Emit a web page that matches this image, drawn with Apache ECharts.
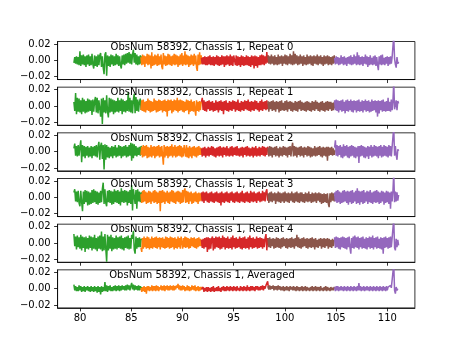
<!DOCTYPE html>
<html>
<head>
<meta charset="utf-8">
<script src="https://cdn.jsdelivr.net/npm/echarts@6/dist/echarts.min.js"></script>
<style>
  html, body { margin: 0; padding: 0; background: #fff; }
  #chart { width: 461px; height: 346px; }
</style>
</head>
<body>
<div id="chart"></div>
<script>
// Panel captions, top to bottom
const panelTitles = [
  'ObsNum 58392, Chassis 1, Repeat 0',
  'ObsNum 58392, Chassis 1, Repeat 1',
  'ObsNum 58392, Chassis 1, Repeat 2',
  'ObsNum 58392, Chassis 1, Repeat 3',
  'ObsNum 58392, Chassis 1, Repeat 4',
  'ObsNum 58392, Chassis 1, Averaged'
];

// Five sub-bands: frequency span of each and its colour
const bandStart = [79.4, 85.95, 91.85, 98.35, 104.85];
const bandEnd   = [86.05, 91.9, 98.4, 104.9, 111.1];
const bandColors = ['#2ca02c', '#ff7f0e', '#d62728', '#8c564b', '#9467bd'];

// Tick positions
const xTicks = [80, 85, 90, 95, 100, 105, 110];
const yTicks = [-0.02, 0.0, 0.02];

// Residual spectra in units of 1e-3, one list per sub-band (evenly spaced channels)
const repeat0 = [
  [-3, 4, -4, 5, -5, 4, -6, 11, -7, 6, -5, 7, -6, 5, -8, 6, -5, 7, -7, 5,
   -6, 8, -5, -10, 6, -7, 5, -8, 7, -6, 6, 9, -8, 5, -9, -17, 7, 10, -19, 6,
   -7, 5, -8, 7, -5, 6, -7, 5, -6, 8, -5, 6, -7, 5, -6, -10, 6, -5, 7, -6,
   8, -4, 9, -3, 10, -4, 8, -5, 7, 13, -3, 9, -5, 7, -6, 5, -5, 6, -4, 5],
  [4, -6, 7, -5, 6, -8, 5, -4, 8, -6, 7, -5, 6, -10, 10, -7, 5, -6, 7, -5,
   6, -7, 8, -6, 5, -5, 7, -8, -11, 9, -5, 6, -7, 5, -6, 8, -5, 7, -6, 5,
   -7, 6, -5, 8, -6, 7, -5, 6, -8, 5, -6, 7, -5, 9, -7, 6, -5, 11, -6, 7,
   -5, 6, -8, 5, -6, 7, -5, 6, -7, 8, -5, 6, -9, -13, 7, -6, 10, -5, 6, -4],
  [3, -5, 4, -5, 5, -6, 4, -6, 5, -5, 6, -6, 4, -6, 5, -7, 4, -5, 6, -6,
   5, -7, 4, -6, 6, -5, 5, -8, 5, -6, 6, -5, 5, -7, 7, -6, 5, -7, 6, 8,
   -6, 6, -7, 5, -6, 4, -8, 6, -6, 5, -7, 4, -6, 6, -6, 5, -7, 4, -8, 6,
   -6, 5, -10, 6, -7, 5, -9, 4, -6, 6, -6, 7, -5, 6, -6, 5, -4, 10, -3, 6],
  [6, -4, 5, -5, 7, -4, 5, -6, 6, -5, 4, -6, 7, -5, 5, -4, 6, -7, 5, -4,
   7, -5, 6, -6, 5, -4, 8, -5, 6, -6, 11, -5, 8, -4, 6, -6, 5, -5, 7, -4,
   5, -7, 6, -5, 4, -6, 7, -5, 5, -4, 6, -6, 5, -7, 6, -4, 5, -5, 7, -6,
   5, -4, 6, -5, 4, -7, 6, -5, 5, -4, 6, -6, 5, -5, 4, -6, 5, -4, 6, -3],
  [3, -5, 5, -4, 4, -6, 3, -5, 6, -4, 4, -6, 5, -5, 3, -7, 4, -4, 5, -5,
   6, -6, 4, -5, 7, -4, 5, -6, 10, -5, 6, -6, 4, -5, 5, -7, 4, -4, 7, -5,
   5, -8, 4, -6, 6, -5, 3, -6, 5, -5, 6, -7, 4, -6, -12, 5, -5, 6, -6, 7,
   -5, 3, -6, 4, -4, 5, -7, 4, -5, 5, -4, 4, 5, 30, 2, -5, -9, 4, -4, -2]
];
const repeat1 = [
  [5, -6, 16, -10, 10, -7, 9, -8, 7, -10, 10, -7, 8, -9, 6, -8, 9, -7, 8, -6,
   7, -11, 8, -7, 6, 11, -8, 10, -9, 7, 8, -13, 9, -22, 10, -8, 7, -9, 13, -7,
   -14, 10, -8, 9, -7, 8, -10, 7, -8, 6, -7, 10, -8, 7, -6, 9, -10, 8, -7, 6,
   -8, 7, -6, 17, -7, 10, -8, 7, -9, 8, 15, -9, 11, -6, 8, -7, 5, 9, -5, 4],
  [-5, 7, -6, 8, -7, 5, -8, 6, -5, 9, -6, 7, -8, 6, -7, 5, -6, 9, -5, 7,
   -8, 6, -7, 8, -6, 7, -5, 6, -8, 7, -6, 8, -7, 6, -13, 8, -6, 7, -5, 8,
   -9, 6, -7, 8, -5, 7, -6, 10, -8, 7, -6, 8, -5, 7, -7, 6, -8, 5, -6, 8,
   -5, 7, -10, 6, -7, 8, -6, 5, -7, 6, -5, -12, 7, -6, 5, -7, 6, -5, 5, 3],
  [5, 10, -5, 7, -6, 5, -7, 6, -4, 7, -6, 5, -5, 6, -7, 4, -6, 7, -5, 5,
   -8, 6, -5, 7, -6, 5, -10, 6, -5, 7, -6, 4, -7, 6, -5, 5, -6, 7, -4, 6,
   -7, 5, -5, 8, -6, 4, -7, 6, -5, 5, -6, 7, -4, 6, -5, 8, -6, 5, -7, 6,
   -5, 5, -6, 7, -4, 6, -5, 4, -7, 6, -5, 8, -6, 5, -4, 6, -5, 7, -4, 3],
  [6, -7, 5, -4, 6, -6, 7, -5, 5, -7, 6, -4, 5, -8, 6, -6, 7, -5, 4, -6,
   6, -5, 7, -7, 5, -4, 6, -6, 5, -7, 4, -5, 6, -6, 5, -7, 6, -4, 7, -6,
   5, -5, 4, -6, 5, -7, 6, -5, 5, -6, 4, -7, 6, -5, 5, -6, 7, -4, 5, -6,
   4, -7, 5, -5, 6, -6, 4, -7, 5, -5, 6, -6, 5, -4, 5, -6, 4, -5, 5, -3],
  [7, -5, 8, -6, 7, -8, 6, -5, 7, -7, 8, -6, 5, -9, 7, -6, 8, -7, 6, -5,
   8, -7, 6, -8, 7, -5, 6, -8, 7, -6, 8, -7, 5, -6, 7, -8, 6, -5, 8, -7,
   6, -6, 7, -8, 5, -7, 8, -6, 6, -5, 7, -8, 6, -13, 7, -9, 6, -5, 7, -7,
   8, -6, 5, -7, 6, -6, 10, -6, 5, -7, 8, -5, 6, 30, -4, -6, 7, -5, 6, 3]
];
const repeat2 = [
  [4, 10, -5, 7, -6, 8, -5, 6, 14, -13, 8, -6, 7, -8, 6, -5, 7, -7, 5, -6,
   7, -8, 6, -5, 7, -6, 8, -7, 6, 12, -10, 7, 11, -9, 8, -22, 9, -10, 8, -7,
   6, -8, 5, -6, 7, -8, 6, -5, 8, -7, 5, -6, 8, -5, 7, -8, 6, -6, 7, -5,
   8, -7, 6, -6, 8, -5, 11, -11, 10, -8, 9, -5, 7, -6, 5, -4, 6, -5, 7, 4],
  [-4, 6, -7, 8, -6, 7, -5, 8, -8, 6, -7, 5, -6, 8, -7, 6, -5, 7, -8, 6,
   -6, 7, -5, 8, -7, 6, -6, 7, -5, -16, 8, -7, 6, -5, 7, -8, 6, -6, 7, -5,
   9, -7, 6, -5, 8, -7, 6, -6, 7, -5, 8, -6, 7, -7, 5, -6, 8, 10, -6, 8,
   -7, 5, -8, 7, -6, 5, -8, 6, -5, 7, -6, 5, -7, 6, -5, 7, -4, 5, -4, 4],
  [4, -6, 5, -5, 6, -7, 4, -5, 6, -6, 5, -4, 7, -5, 6, -6, 4, -7, 5, -5,
   6, -6, 7, -5, 5, -7, 6, -4, 5, -6, 7, -5, 4, -6, 6, -5, 7, -6, 5, -4,
   6, -5, 7, -5, 4, -6, 5, -5, 6, -7, 5, -4, 6, -6, 7, -5, 5, -6, 4, -5,
   6, -7, 5, -5, 7, -6, 4, -5, 6, -6, 5, -4, 7, -5, 6, -6, 5, -4, 6, 1],
  [5, -6, 7, -5, 6, -7, 5, -4, 6, -6, 7, -5, 4, -7, 6, -5, 5, -6, 7, -4,
   6, -5, 5, -7, 6, -4, 7, -6, 5, 11, -6, 7, -5, 6, -7, 5, -4, 6, -6, 7,
   -5, 5, -7, 6, -4, 5, -6, 7, -5, 6, -7, 5, -6, 4, -5, 7, -6, 5, -5, 6,
   -4, 7, -6, 5, -7, 6, -5, 5, -6, 6, -11, 6, -5, 5, -4, 6, -5, 4, -4, 2],
  [5, 14, -5, 8, -6, 7, -4, 8, -7, 6, -8, 9, -6, 7, -5, 8, -7, 6, -8, 7,
   -6, 8, -5, 7, -7, 6, -8, 5, -6, 7, -14, 7, -6, 8, -5, 7, -7, 6, -8, 5,
   -6, 7, -9, 6, -5, 8, -7, 6, -6, 8, -5, 7, -6, 6, -8, 7, -5, 8, -7, 6,
   -6, 8, -5, 7, -6, 6, -7, 8, -5, 7, -6, 6, 7, 30, -5, 7, -4, -10, 3, 1]
];
const repeat3 = [
  [6, 10, -5, 7, -6, 8, -7, -11, 8, -6, -17, 7, -8, 9, -6, 8, -10, 7, -9, 6,
   -8, 9, -7, 10, -6, 8, -8, 7, -9, 6, -7, 8, -6, 10, 18, -8, 10, -7, -11, 8,
   -6, 9, -7, 8, -9, 7, -8, 10, -6, 8, -7, 9, -8, 7, -10, 11, -6, 8, -7, 9,
   -6, 8, -10, 7, -7, 9, -8, 15, -16, 10, 12, -8, 9, -14, 10, -5, 7, -6, 6, 4],
  [4, -7, 8, -6, 9, -5, 7, -8, 6, -7, 8, -6, 7, -8, 6, -5, 8, -7, 9, -6,
   7, -8, 6, -7, 8, -17, 8, -7, 9, -6, 7, -8, 6, -5, 8, -7, 6, -8, 7, -5,
   9, -6, 8, -7, 6, -8, 7, -5, 8, -6, 7, -8, 6, -7, 9, -6, 8, 11, -7, 8,
   -6, 7, -8, 6, -5, 7, -8, 5, -7, 6, -5, 7, -6, 5, -8, 6, -5, 5, -4, 3],
  [6, -5, 7, -7, 6, -4, 7, -6, 5, -7, 6, -5, 7, -6, 5, -7, 6, -5, 7, -6,
   5, -7, 6, -10, 7, -6, 5, -7, 6, -5, 7, -6, 5, -7, 6, -4, 7, -6, 5, -7,
   6, -5, 7, -6, 5, -7, 6, -5, 8, -6, 5, -7, 6, -5, 7, -6, 5, -7, 8, -5,
   6, -6, 7, -5, 5, -7, 6, -4, 7, -6, 5, -5, 8, -4, 6, -5, 7, 10, -4, 1],
  [5, -7, 6, -5, 7, -6, 5, -4, 6, -8, 5, -5, 7, -6, 6, -7, 5, -5, 6, -7,
   7, -5, 5, -6, 6, -7, 5, -4, 7, -6, 5, -7, 6, -5, 7, -6, 5, -7, 6, -5,
   6, -6, 4, -7, 6, -5, 5, -6, 7, -5, 4, -7, 6, -6, 5, -5, 6, -7, 5, -4,
   6, -6, 5, -8, 4, -7, 5, -6, 4, -7, 5, -8, -12, 5, -6, 6, -4, 5, -5, 2],
  [6, -5, 8, -7, 9, -6, 7, -8, 6, -7, 8, -6, 9, -5, 7, -7, 8, -9, 7, -6,
   8, -8, 9, -7, 6, -5, 8, -8, 11, -7, 8, -9, 7, -6, 8, -8, 9, -7, 6, -5,
   8, -8, 7, -6, 9, -7, 6, -8, 7, -6, 8, -7, 9, -6, 7, -8, 6, -7, 8, -5,
   7, -9, 6, -7, 8, -6, 7, -8, 6, -14, 7, -5, 8, 30, -6, 7, -5, 6, -4, 3]
];
const repeat4 = [
  [11, -4, 8, -8, 9, -5, 7, -7, 10, -9, 8, -6, 7, -11, 8, -7, 6, -8, 9, -6,
   8, -9, 7, -7, 10, -8, 6, -10, 8, -7, 9, -8, 14, -10, 8, -9, 11, -7, -23, 10,
   -9, 8, -7, 10, -10, 7, -8, 6, -7, 9, -8, 7, -6, 8, -7, 9, -8, 6, -9, 7,
   -6, 8, -7, 9, -8, 6, -7, 10, 5, 15, -8, -13, 8, -7, 6, -5, 7, -5, 5, 4],
  [-6, -11, 6, -7, 8, -5, 6, -7, 8, -6, 7, -8, 5, -6, 8, -7, 6, -5, 7, -6,
   8, -7, 6, -5, 7, -8, 6, -5, 7, -6, 5, -7, 8, -6, 7, -5, 6, -7, 8, -6,
   7, -5, 6, -8, 7, -6, 5, -7, 8, -5, 6, -7, 8, 10, -7, 6, -5, 8, -6, 7,
   -5, 6, -7, 5, -6, 7, -4, 6, -5, 7, -6, 5, -7, 6, -5, 7, -4, 5, -4, 4],
  [4, -6, 5, -7, 6, -5, 7, -11, 7, -8, 6, -7, 5, 8, -9, 6, -7, 8, -5, 7,
   -6, 8, -8, 6, -7, 9, -5, 7, -8, 6, -6, 8, -7, 5, -6, 7, -8, 9, -5, 6,
   -7, 7, -6, 5, -5, 8, -7, 6, -8, 7, -6, 8, -7, 5, -6, 7, -8, 9, -5, 6,
   -7, 7, -6, 5, -5, 8, -7, 6, -6, 7, -5, 6, -7, 5, -5, 6, 11, -9, 6, 2],
  [6, -5, 7, -6, 5, -4, 6, -7, 5, -6, 7, -5, 6, -6, 5, -7, 6, -5, 7, -4,
   5, -6, 6, -7, 5, -5, 6, -6, 7, -5, 5, -7, 6, -4, 10, -5, 7, -6, 5, -7,
   6, -5, 7, -4, 5, -6, 6, -7, 5, -5, 6, -6, 7, -5, 5, -8, 6, -5, 4, -6,
   5, -4, 6, -7, 5, -5, 6, -6, 5, -4, 6, -7, 5, -5, 4, -6, 5, -4, 4, 2],
  [7, -6, 8, -5, 7, -7, 6, -8, 7, -5, 8, -6, 7, -7, 6, -8, 7, -5, 8, -6,
   -13, 6, -6, 8, -7, 9, -5, 7, -6, 8, -8, 6, -5, 7, -7, 8, -6, 5, -7, 7,
   -8, 6, -5, 8, -7, 7, -6, 9, -8, 6, -5, 7, -7, 8, -6, 5, -7, 7, -8, 6,
   -13, 7, -6, 8, -5, 6, -7, 7, -6, 8, -5, 6, 5, 30, -6, -9, 5, -5, 4, -3]
];
const averaged = [
  [5, -2, 3, -3, 2, -3, 4, -2, 3, -4, 2, -3, 3, -4, 2, -2, 3, -3, 2, -4,
   3, -3, 2, -4, 3, -3, 2, -5, 3, -4, 2, -7, 3, -4, 2, -3, 8, -3, 4, -4,
   3, -2, 4, -3, 2, -3, 3, -2, 4, -3, 3, -2, 4, -3, 3, -2, 4, -1, 3, -2,
   4, -2, 5, -1, 4, -2, 3, 7, -1, 5, -2, 4, -1, 3, -2, 4, -2, 3, -1, 2],
  [1, -4, 2, -3, 3, -4, 2, -6, 3, -2, 3, -3, 2, -2, 4, -3, 3, -2, 3, -3,
   4, -2, 3, -3, 2, -1, 4, -2, 3, -2, 4, -3, 3, -1, 4, -2, 3, -2, 4, -1,
   3, -2, 4, -2, 3, -1, 4, 1, 6, -1, 4, -2, 3, -2, 4, -1, 3, -3, 2, -2,
   4, -2, 3, -3, 2, -2, 4, -1, 3, -2, 4, -3, 2, -2, 3, -3, 2, -2, 2, 0],
  [-1, -3, 2, -4, 1, -3, 2, -4, 2, -3, 1, -4, 2, -3, 3, -4, 1, -3, 2, -3,
   3, -3, 1, -4, 2, -2, 3, -3, 2, -3, 3, -2, 2, -3, 3, -2, 2, -3, 3, -2,
   2, -3, 3, -2, 1, -3, 3, -2, 2, -3, 3, -2, 2, -3, 4, -2, 2, -3, 3, -2,
   3, -2, 2, -3, 3, -1, 3, -2, 2, -2, 3, -1, 4, -2, 3, 0, 4, 2, 9, 0],
  [3, -1, 4, -1, 3, 0, 4, -2, 3, -1, 3, -2, 4, -1, 3, -2, 2, -2, 3, -3,
   2, -2, 3, -2, 2, -3, 3, -1, 2, -2, 3, -2, 2, -3, 3, -2, 2, -3, 2, -2,
   3, -3, 2, -2, 3, -3, 2, -2, 1, -3, 2, -2, 3, -3, 2, -2, 3, -3, 2, -2,
   2, -3, 3, -2, 1, -3, 2, -2, 3, -3, 2, -2, 1, -3, 2, -2, 1, -2, 2, 0],
  [2, -3, 3, -2, 3, -3, 2, -2, 3, -2, 2, -3, 3, -2, 2, -3, 3, -2, 2, -3,
   3, -2, 2, -3, 3, -2, 2, -3, 3, -2, 7, -2, 3, -3, 2, -2, 3, -3, 2, -2,
   3, -2, 2, -3, 3, -2, 2, -3, 3, -2, 2, -3, 3, -2, 2, -3, 3, -2, 2, -3,
   3, -2, 2, -3, 3, -2, 2, 3, 1, 4, 1, 3, 2, 30, -2, -6, 2, -2, 0, -1]
];
const panels = [repeat0, repeat1, repeat2, repeat3, repeat4, averaged];
const UNIT = 1e-3;

// Layout of the stacked axes (pixels)
const W = 461, H = 346;
const plotLeft = 57.6, plotRight = 414.9;
const plotTop = 41.5, plotBottom = 307.9;
const nPanels = panels.length;
const panelH = (plotBottom - plotTop) / (nPanels + 0.2 * (nPanels - 1));
const panelGap = 0.2 * panelH;
const FONT = 'DejaVu Sans';

const grids = [], xAxes = [], yAxes = [], series = [], texts = [];

const fmtY = v => (Math.abs(v) < 1e-9 ? '0.00' : v.toFixed(2).replace('-', '\u2212'));

panels.forEach((bands, i) => {
  const top = plotTop + i * (panelH + panelGap);
  const isLast = i === nPanels - 1;
  grids.push({
    left: plotLeft, width: plotRight - plotLeft, top: top, height: panelH,
    show: true, borderColor: '#000', borderWidth: 0.8, backgroundColor: 'transparent',
    containLabel: false
  });
  xAxes.push({
    type: 'value', gridIndex: i, min: 77.81, max: 112.69,
    axisLine: { show: true, onZero: false, lineStyle: { color: '#000', width: 0.8 } },
    axisTick: { show: true, inside: false, length: 3.5, customValues: xTicks, lineStyle: { color: '#000', width: 0.8 } },
    axisLabel: { show: isLast, customValues: xTicks, margin: 6, color: '#000', fontSize: 10, fontFamily: FONT },
    splitLine: { show: false }
  });
  yAxes.push({
    type: 'value', gridIndex: i, min: -0.0236, max: 0.0231,
    axisLine: { show: true, onZero: false, lineStyle: { color: '#000', width: 0.8 } },
    axisTick: { show: true, inside: false, length: 3.5, customValues: yTicks, lineStyle: { color: '#000', width: 0.8 } },
    axisLabel: { show: true, customValues: yTicks, margin: 7, color: '#000', fontSize: 10, fontFamily: FONT, formatter: fmtY },
    splitLine: { show: false }
  });
  bands.forEach((vals, j) => {
    const n = vals.length;
    const step = (bandEnd[j] - bandStart[j]) / (n - 1);
    series.push({
      type: 'line', xAxisIndex: i, yAxisIndex: i,
      data: vals.map((v, k) => [bandStart[j] + k * step, v * UNIT]),
      showSymbol: false, symbol: 'none', clip: true,
      lineStyle: { color: bandColors[j], width: 1.5 },
      emphasis: { disabled: true },
      silent: true, z: 2 + j
    });
  });
  texts.push({
    type: 'text', z: 100,
    x: 202, y: top + 0.5,
    style: { text: panelTitles[i], textAlign: 'center', textVerticalAlign: 'top', fill: '#000', font: '10px "DejaVu Sans"' }
  });
});

const chart = echarts.init(document.getElementById('chart'), null, { renderer: 'canvas', width: W, height: H });
chart.setOption({
  animation: false,
  backgroundColor: '#fff',
  grid: grids,
  xAxis: xAxes,
  yAxis: yAxes,
  series: series,
  graphic: texts
});
</script>
</body>
</html>
